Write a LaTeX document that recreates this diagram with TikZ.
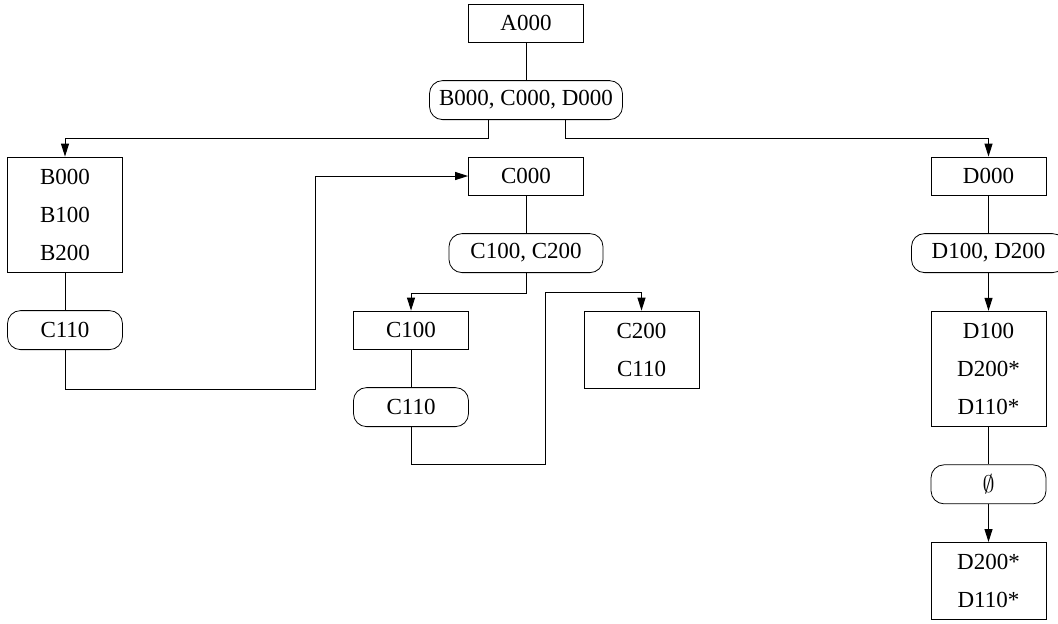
\documentclass[tikz,border=0pt]{standalone}
\usepackage{fontspec}
\setmainfont{Liberation Serif}
\usepackage{amssymb}
\usetikzlibrary{arrows.meta, positioning}

\begin{document}
\begin{tikzpicture}[
    x=0.5pt, y=-0.5pt,
    node distance=18.9pt,
    every node/.style={font=\fontsize{11.5}{19}\selectfont},
    box/.style={rectangle, draw, align=center, inner sep=0pt, minimum width=57.5pt, minimum height=19pt},
    rows/.style={box, minimum height=#1, execute at begin node={\rule{0pt}{13pt}}},
    pill/.style={rectangle, draw, rounded corners=6.5pt, align=center, inner sep=0pt, minimum width=57.5pt, minimum height=19.5pt},
    link/.style={line width=0.5pt},
    arrow/.style={-{Triangle[length=6.5pt, width=4pt]}, line width=0.5pt}
]
\useasboundingbox (0,0) rectangle (1058,623);

\node[box] (a000) at (526,23) {A000};
\node[pill, minimum width=96.5pt, below=of a000] (abcd) {B000, C000, D000};

% column B
\node[rows=57.5pt] (bbox) at (65,214.5) {B000\\B100\\B200};
\node[pill, below=of bbox] (bpill) {C110};

% column C
\node[box] (c000) at (526,176) {C000};
\node[pill, minimum width=77pt, below=of c000] (cpill) {C100, C200};
\node[box] (c100) at (411,330) {C100};
\node[pill, below=of c100] (cpillb) {C110};
\node[rows=38.5pt] (c200) at (641.5,349.5) {C200\\C110};

% column D
\node[box] (d000) at (988.5,176) {D000};
\node[pill, minimum width=77pt, below=of d000] (dpill) {D100, D200};
\node[rows=57.5pt, below=of dpill] (dbox) {D100\\D200*\\D110*};
\node[pill, below=of dbox] (epill) {$\emptyset$};
\node[rows=38.5pt, below=of epill] (dlast) {D200*\\D110*};

\coordinate (bjog) at (315,0);
\coordinate (cjog) at (545,292);

\draw[link] (a000) -- (abcd);
\draw[arrow] (abcd.south) ++(-38,0) -- ++(0,18) -| (bbox.north);
\draw[arrow] (abcd.south) ++(39,0) -- ++(0,18) -| (d000.north);

\draw[link] (bbox) -- (bpill);
\draw[arrow] (bpill.south) -- ++(0,39) -| (bjog |- c000.west) -- (c000.west);

\draw[link] (c000) -- (cpill);
\draw[arrow] (cpill.south) -- ++(0,20) -| (c100.north);
\draw[link] (c100) -- (cpillb);
\draw[arrow] (cpillb.south) -- ++(0,37) -| (cjog) -| (c200.north);

\draw[link] (d000) -- (dpill);
\draw[arrow] (dpill) -- (dbox);
\draw[link] (dbox) -- (epill);
\draw[arrow] (epill) -- (dlast);
\end{tikzpicture}
\end{document}
